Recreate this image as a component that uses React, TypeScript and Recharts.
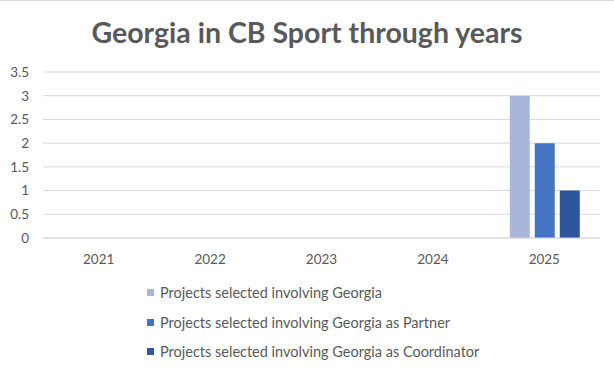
import { BarChart, Bar, XAxis, YAxis, CartesianGrid, Legend } from 'recharts';

const years = ['2021', '2022', '2023', '2024', '2025'];
const involving = [0, 0, 0, 0, 3];
const asPartner = [0, 0, 0, 0, 2];
const asCoordinator = [0, 0, 0, 0, 1];
const yTicks = [0, 0.5, 1, 1.5, 2, 2.5, 3, 3.5];

const seriesNames = [
  'Projects selected involving Georgia',
  'Projects selected involving Georgia as Partner',
  'Projects selected involving Georgia as Coordinator',
];
const seriesColors = ['#A9B6DC', '#4472C4', '#2F559A'];

const data = years.map((year, i) => ({
  year,
  involving: involving[i],
  partner: asPartner[i],
  coordinator: asCoordinator[i],
}));

const FONT = 'Lato, "Open Sans", sans-serif';
const TEXT = '#595959';

const CustomLegend = () => (
  <div style={{ position: 'absolute', left: 147, top: 277, fontFamily: FONT, fontSize: 14.5, color: TEXT }}>
    {seriesNames.map((name, i) => (
      <div key={name} style={{ display: 'flex', alignItems: 'center', height: 29.5 }}>
        <span style={{ width: 7, height: 7, background: seriesColors[i], marginRight: 6, display: 'inline-block' }} />
        <span>{name}</span>
      </div>
    ))}
  </div>
);

export default function App() {
  return (
    <div style={{ position: 'absolute', left: 0, top: 0, width: 614, height: 368, background: '#fff', borderTop: '1px solid #D9D9D9', boxSizing: 'border-box' }}>
      <div
        style={{
          position: 'absolute',
          left: 0,
          top: 14,
          width: 614,
          textAlign: 'center',
          fontFamily: FONT,
          fontWeight: 'bold',
          fontSize: 28.5,
          color: TEXT,
        }}
      >
        Georgia in CB Sport through years
      </div>
      <div style={{ position: 'absolute', left: 0, top: -1 }}>
        <BarChart
          width={614}
          height={368}
          data={data}
          margin={{ top: 72, right: 14, left: 8, bottom: 100 }}
          barCategoryGap="19%"
          barGap={5}
        >
          <CartesianGrid vertical={false} stroke="#D9D9D9" />
          <XAxis
            dataKey="year"
            axisLine={{ stroke: '#D9D9D9' }}
            tickLine={false}
            tickSize={0}
            tickMargin={16}
            height={30}
            tick={{ fill: TEXT, fontSize: 13.5, fontFamily: FONT }}
          />
          <YAxis
            domain={[0, 3.5]}
            ticks={yTicks}
            axisLine={false}
            tickLine={false}
            tickSize={0}
            tickMargin={14}
            width={35}
            tick={{ fill: TEXT, fontSize: 13.5, fontFamily: FONT }}
          />
          <Legend content={() => null} />
          <Bar dataKey="involving" name={seriesNames[0]} fill={seriesColors[0]} isAnimationActive={false} />
          <Bar dataKey="partner" name={seriesNames[1]} fill={seriesColors[1]} isAnimationActive={false} />
          <Bar dataKey="coordinator" name={seriesNames[2]} fill={seriesColors[2]} isAnimationActive={false} />
        </BarChart>
      </div>
      <CustomLegend />
    </div>
  );
}
